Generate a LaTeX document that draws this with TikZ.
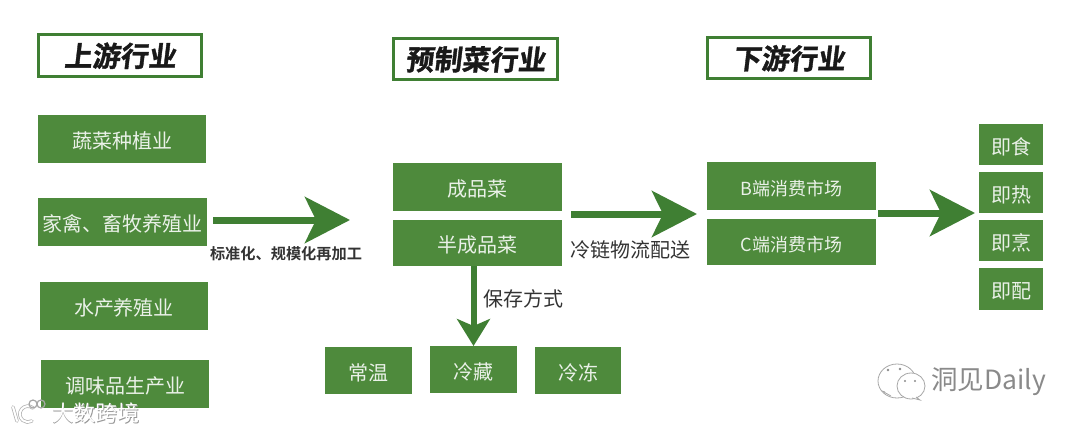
\documentclass[tikz,border=0pt]{standalone}
\usepackage{fontspec}
\setmainfont{Noto Sans CJK SC}[BoldFont={Noto Sans CJK SC Bold}]
\newfontfamily\titlefont{Noto Sans CJK SC Bold}[FakeSlant=0.12,FakeBold=1.2]
\usetikzlibrary{arrows.meta}
\definecolor{leaf}{HTML}{4E8A3C}
\definecolor{leafdark}{HTML}{3F7F33}
\definecolor{wm}{HTML}{8A8A8A}
\tikzset{
  box/.style={fill=leaf,draw=none,inner sep=0pt,outer sep=0pt,text=white!88!leaf,text height=20pt,text depth=1pt,font=\fontsize{20}{22}\selectfont},
  bigbox/.style={box,font=\fontsize{18}{20}\selectfont},
  titlebox/.style={draw=leafdark,line width=3pt,fill=white,inner sep=0pt,outer sep=0pt,text=black!90,text height=22pt,text depth=0pt,font=\titlefont\fontsize{28}{30}\selectfont},
  flow/.style={draw=leafdark,line width=7pt,-{Stealth[length=45pt,width=46pt,inset=11pt]}},
  lbl/.style={text=black!80,inner sep=0pt},
  wmtext/.style={text=wm,inner sep=0pt},
  bubble/.style={draw=black!35,fill=white,line width=0.8pt}
}
\newcommand{\bx}[6]{\node[#1,minimum width=#5pt - #3pt,minimum height=#6pt - #4pt,anchor=north west] (#2) at (#3,#4)}
\newcommand{\tb}[6]{\node[#1,minimum width=#5pt - #3pt - 3pt,minimum height=#6pt - #4pt - 3pt,anchor=north west] (#2) at (#3+1.5,#4+1.5)}
\begin{document}
\begin{tikzpicture}[x=1pt,y=-1pt]
\useasboundingbox (0,0) rectangle (1080,432);
% titles
\tb{titlebox}{t1}{37}{33}{203}{78} {上游行业};
\tb{titlebox}{t2}{392}{37}{559}{81} {预制菜行业};
\tb{titlebox}{t3}{706}{36}{872}{80} {下游行业};
% upstream
\bx{box}{a1}{38}{115}{206}{163} {蔬菜种植业};
\bx{box}{a2}{38}{198}{207}{246} {家禽、畜牧养殖业};
\bx{box}{a3}{40}{282}{208}{330} {水产养殖业};
\bx{box}{a4}{41}{360}{209}{408} {调味品生产业};
% middle
\bx{box}{b1}{393}{163}{562}{211} {成品菜};
\bx{box}{b2}{393}{220}{562}{266} {半成品菜};
\bx{box}{s1}{325}{347}{412}{394} {常温};
\bx{box}{s2}{430}{346}{517}{393} {冷藏};
\bx{box}{s3}{535}{347}{621}{394} {冷冻};
% downstream
\bx{bigbox}{c1}{707}{162}{876}{210} {B端消费市场};
\bx{bigbox}{c2}{707}{219}{876}{265} {C端消费市场};
% right
\bx{box}{d1}{979}{124}{1043}{165} {即食};
\bx{box}{d2}{979}{172}{1043}{213} {即热};
\bx{box}{d3}{979}{220}{1043}{261} {即烹};
\bx{box}{d4}{979}{268}{1043}{310} {即配};
% arrow ends
\coordinate (e1) at (350,220);
\coordinate (e2) at (697,214);
\coordinate (e3) at (975,213);
% arrows
\draw[flow,shorten <=6pt] (a2.east |- e1) -- (e1);
\draw[flow,shorten <=9pt] (b1.east |- e2) -- (e2);
\draw[flow,shorten <=2pt] (c1.east |- e3) -- (e3);
\draw[flow,line width=6pt,-{Stealth[length=27pt,width=33pt,inset=7pt]}] (b2.south -| s2.north) -- (s2.north);
% labels
\node[lbl,font=\bfseries\fontsize{15.2}{17}\selectfont] (l1) at (286,254) {标准化、规模化再加工};
\node[lbl,font=\fontsize{20}{22}\selectfont] (l2) at (630,250) {冷链物流配送};
\node[lbl,font=\fontsize{20}{22}\selectfont] (l3) at (523,299) {保存方式};
% watermarks
\node[text=black!40,inner sep=0pt,font=\fontsize{22}{24}\selectfont] (w0) at (96.8,413.8) {大数跨境};
\node[text=white,inner sep=0pt,font=\fontsize{22}{24}\selectfont] (w1) at (96,413) {大数跨境};
\draw[black!30,line width=3.5pt,line cap=round] (13,407) -- (17,421) (33,408) arc[start angle=50,end angle=300,radius=8pt];
\draw[white,line width=2pt,line cap=round] (13,407) -- (17,421) (33,408) arc[start angle=50,end angle=300,radius=8pt];
\draw[black!35,line width=1.2pt] (33,404) circle[radius=4pt] (41,404) circle[radius=4pt];
\draw[bubble] (897,381) ellipse[x radius=19pt,y radius=17pt];
\draw[bubble] (885,392) -- (882,391) -- (891,396);
\draw[bubble] (911,386) ellipse[x radius=14pt,y radius=13pt];
\draw[bubble] (916,397) -- (920,400) -- (912,398);
\fill[black!45] (888,370) circle[radius=1.3pt] (900,369) circle[radius=1.3pt] (905,381) circle[radius=1.1pt] (915,381) circle[radius=1.1pt];
\node[wmtext,anchor=west,font=\fontsize{26.5}{29}\selectfont] (w2) at (931,382) {洞见Daily};
\end{tikzpicture}
\end{document}
